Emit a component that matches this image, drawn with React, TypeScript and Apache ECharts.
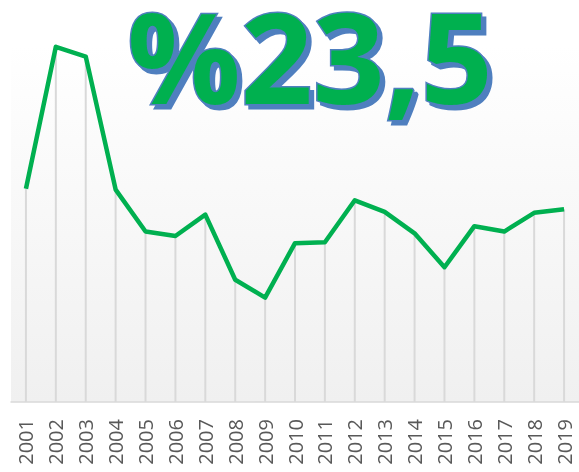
import React, { useEffect, useRef } from "react";
import * as echarts from "echarts";

const years = ["2001","2002","2003","2004","2005","2006","2007","2008","2009","2010","2011","2012","2013","2014","2015","2016","2017","2018","2019"];
const values = [23.9, 39.8, 38.7, 23.8, 19.1, 18.6, 21.0, 13.7, 11.7, 17.8, 17.9, 22.6, 21.3, 18.9, 15.1, 19.7, 19.1, 21.2, 21.6];
const titleText = "%23,5";

export default function App() {
  const ref = useRef<HTMLDivElement>(null);
  useEffect(() => {
    const chart = echarts.init(ref.current!, null, { renderer: "svg" });
    chart.setOption({
      animation: false,
      title: {
        text: titleText,
        left: 310,
        top: 55,
        textAlign: "center",
        textVerticalAlign: "middle",
        padding: 0,
        textStyle: {
          fontFamily: "Open Sans",
          fontWeight: "bold",
          fontSize: 126,
          lineHeight: 100,
          color: "#00b050",
          textBorderColor: "#4f7fbf",
          textBorderWidth: 3,
          textShadowColor: "#4f7fbf",
          textShadowOffsetX: 4,
          textShadowOffsetY: 4,
          textShadowBlur: 0.5,
        },
      },
      grid: {
        left: 11,
        width: 573,
        top: 45,
        bottom: 70,
        show: true,
        borderWidth: 0,
        backgroundColor: new echarts.graphic.LinearGradient(0, 0, 0, 1, [
          { offset: 0, color: "#ffffff" },
          { offset: 1, color: "#f0f0f0" },
        ]),
      },
      xAxis: {
        type: "category",
        data: years,
        boundaryGap: true,
        axisLine: { show: true, lineStyle: { color: "#d9d9d9", width: 1.5 } },
        axisTick: { show: false },
        splitLine: { show: false },
        axisLabel: {
          rotate: 90,
          margin: 17,
          color: "#595959",
          fontSize: 20,
          fontFamily: "Open Sans",
          interval: 0,
        },
      },
      yAxis: {
        type: "value",
        min: 0,
        max: 40,
        show: false,
        splitLine: { show: false },
      },
      series: [
        {
          type: "bar",
          data: values,
          barWidth: 2,
          itemStyle: { color: "#d9d9d9" },
          z: 1,
          silent: true,
        },
        {
          type: "line",
          data: values,
          showSymbol: false,
          symbol: "none",
          lineStyle: { color: "#00b050", width: 4.5, join: "round" },
          z: 3,
        },
      ],
    });
    return () => chart.dispose();
  }, []);
  return (
    <div
      ref={ref}
      style={{ position: "fixed", left: 0, top: 0, width: 579, height: 472 }}
    />
  );
}
